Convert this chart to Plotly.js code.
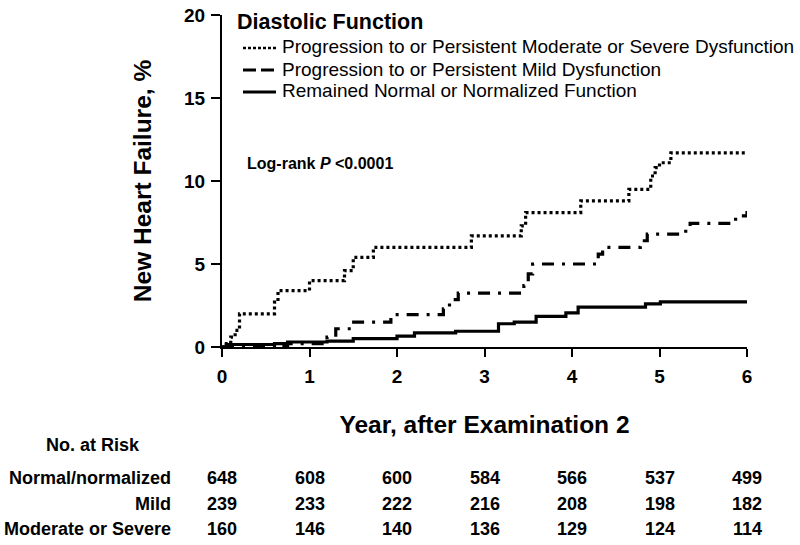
<!DOCTYPE html>
<html>
<head>
<meta charset="utf-8">
<script src="https://cdn.plot.ly/plotly-3.0.1.min.js"></script>
<style>html,body{margin:0;padding:0;background:#fff;}#chart{width:800px;height:545px;}</style>
</head>
<body>
<div id="chart"></div>
<script>
// Moderate or severe dysfunction (dotted)
const severeX = [0, 0.05, 0.10, 0.15, 0.20, 0.60, 0.64, 1.00, 1.40, 1.50, 1.73, 2.85, 3.42, 3.47, 4.10, 4.65, 4.90, 4.95, 5.00, 5.13, 6.00];
const severeY = [0, 0.2, 0.6, 1.0, 2.0, 2.7, 3.4, 4.0, 4.6, 5.4, 6.0, 6.7, 7.3, 8.1, 8.8, 9.5, 10.3, 10.8, 11.1, 11.7, 11.7];
// Mild dysfunction (dash-dot)
const mildX = [0, 0.60, 0.75, 1.20, 1.30, 1.48, 1.93, 2.53, 2.60, 2.70, 3.45, 3.50, 3.55, 4.30, 4.35, 4.78, 4.86, 5.30, 5.35, 5.87, 6.00];
const mildY = [0, 0.1, 0.2, 0.6, 1.1, 1.5, 1.95, 2.3, 2.85, 3.25, 3.7, 4.4, 5.0, 5.6, 6.0, 6.4, 6.8, 7.1, 7.45, 7.9, 8.2];
// Remained normal / normalized (solid)
const normalX = [0, 0.05, 0.60, 0.75, 1.20, 1.50, 2.00, 2.20, 2.67, 3.16, 3.34, 3.59, 3.93, 4.07, 4.84, 5.01, 6.00];
const normalY = [0, 0.15, 0.2, 0.3, 0.35, 0.5, 0.65, 0.85, 0.95, 1.4, 1.5, 1.85, 2.05, 2.4, 2.6, 2.72, 2.72];

const legendTitle = "Diastolic Function";
const legendNames = [
  "Progression to or Persistent Moderate or Severe Dysfunction",
  "Progression to or Persistent Mild Dysfunction",
  "Remained Normal or Normalized Function"
];
const xTicks = [0, 1, 2, 3, 4, 5, 6];
const yTicks = [0, 5, 10, 15, 20];
const riskRowLabels = ["Normal/normalized", "Mild", "Moderate or Severe"];
const riskNormal = [648, 608, 600, 584, 566, 537, 499];
const riskMild = [239, 233, 222, 216, 208, 198, 182];
const riskSevere = [160, 146, 140, 136, 129, 124, 114];
const riskRows = [riskNormal, riskMild, riskSevere];

const FONT = "Liberation Sans, Arial, sans-serif";

const dashes = ["3px,3px", "12px,8px,3px,8px", "solid"];
const legendDashes = ["3px,2px", "13px,5px", "solid"];
const legendWidths = [2.5, 3, 3];

const traces = [
  {x: severeX, y: severeY, name: legendNames[0], mode: "lines", line: {shape: "hv", color: "#000", width: 3.2, dash: dashes[0]}, hoverinfo: "skip"},
  {x: mildX, y: mildY, name: legendNames[1], mode: "lines", line: {shape: "hv", color: "#000", width: 3.2, dash: dashes[1]}, hoverinfo: "skip"},
  {x: normalX, y: normalY, name: legendNames[2], mode: "lines", line: {shape: "hv", color: "#000", width: 3.2}, hoverinfo: "skip"}
];

const plotTop = 15, plotBottom = 347, plotH = plotBottom - plotTop;
const py = px => (plotBottom - px) / plotH; // pixel row -> paper y
const pxX = px => (px - 222) / 525;         // pixel col -> paper x

const annotations = [];
const shapes = [];

// Legend (title, samples, labels)
annotations.push({
  xref: "paper", yref: "paper", x: pxX(235), y: py(22), xanchor: "left", yanchor: "middle",
  text: "<b>" + legendTitle + "</b>", showarrow: false,
  font: {family: FONT, size: 21.5, color: "#000"}
});
const legendRowPix = [47, 69, 91];
legendNames.forEach((name, i) => {
  annotations.push({
    xref: "paper", yref: "paper", x: pxX(280), y: py(legendRowPix[i]), xanchor: "left", yanchor: "middle",
    text: name, showarrow: false,
    font: {family: FONT, size: 19, color: "#000"}
  });
  shapes.push({
    type: "line", xref: "paper", yref: "paper",
    x0: pxX(243), x1: pxX(276), y0: py(legendRowPix[i] + 1), y1: py(legendRowPix[i] + 1),
    line: {color: "#000", width: legendWidths[i], dash: legendDashes[i]}
  });
});

annotations.push({
  xref: "x", yref: "y", x: 0.26, y: 11.05, xanchor: "left", yanchor: "middle",
  text: "<b>Log-rank <i>P</i> <0.0001</b>", showarrow: false,
  font: {family: FONT, size: 16, color: "#000"}
});
annotations.push({
  xref: "paper", yref: "paper", x: pxX(93), y: py(445), xanchor: "center", yanchor: "middle",
  text: "<b>No. at Risk</b>", showarrow: false,
  font: {family: FONT, size: 18, color: "#000"}
});
const rowPix = [478, 504, 529];
riskRows.forEach((row, r) => {
  annotations.push({
    xref: "paper", yref: "paper", x: pxX(173), y: py(rowPix[r]), xanchor: "right", yanchor: "middle",
    text: "<b>" + riskRowLabels[r] + "</b>", showarrow: false,
    font: {family: FONT, size: 18, color: "#000"}
  });
  row.forEach((v, i) => {
    annotations.push({
      xref: "x", yref: "paper", x: xTicks[i], y: py(rowPix[r]), xanchor: "center", yanchor: "middle",
      text: "<b>" + v + "</b>", showarrow: false,
      font: {family: FONT, size: 18, color: "#000"}
    });
  });
});

const layout = {
  width: 800, height: 545,
  margin: {l: 222, r: 53, t: 15, b: 198, autoexpand: false},
  paper_bgcolor: "#fff", plot_bgcolor: "#fff",
  showlegend: false,
  xaxis: {
    range: [0, 6], tickvals: xTicks, ticktext: xTicks.map(v => "<b>" + v + "</b>"),
    showgrid: false, zeroline: false, showline: true, linecolor: "#000", linewidth: 2,
    ticks: "outside", ticklen: 8, tickwidth: 2, tickcolor: "#000",
    ticklabelstandoff: 3,
    tickfont: {family: FONT, size: 19, color: "#000"},
    title: {text: "<b>Year, after Examination 2</b>", font: {family: FONT, size: 24.5, color: "#000"}, standoff: 30},
    fixedrange: true
  },
  yaxis: {
    range: [0, 20], tickvals: yTicks, ticktext: yTicks.map(v => "<b>" + v + "</b>"),
    showgrid: false, zeroline: false, showline: true, linecolor: "#000", linewidth: 2,
    ticks: "outside", ticklen: 9, tickwidth: 2, tickcolor: "#000",
    ticklabelstandoff: 2,
    tickfont: {family: FONT, size: 19, color: "#000"},
    title: {text: "<b>New Heart Failure, %</b>", font: {family: FONT, size: 24.5, color: "#000"}, standoff: 25},
    fixedrange: true
  },
  annotations: annotations,
  shapes: shapes
};

Plotly.newPlot("chart", traces, layout, {displayModeBar: false, staticPlot: true});
</script>
</body>
</html>
